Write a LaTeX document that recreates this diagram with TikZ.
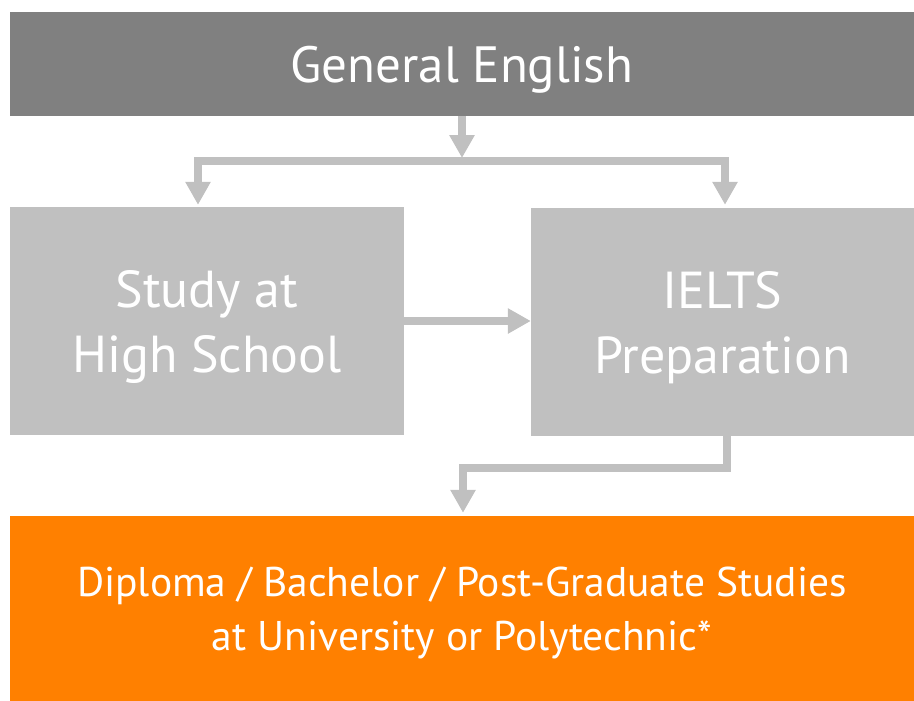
\documentclass[tikz,border=0pt]{standalone}
\usepackage{fontspec}
\setmainfont{PT Sans}
\usetikzlibrary{arrows.meta}

\definecolor{topgray}{HTML}{808080}
\definecolor{boxgray}{HTML}{C0C0C0}
\definecolor{degorange}{HTML}{FF8000}

\tikzset{
  block/.style={fill=#1, text=white, align=center, inner sep=0pt, text depth=0pt},
  bar/.style={draw=boxgray, line width=8pt},
  flow/.style={bar, -{Triangle[width=24pt,length=23pt]}}
}

\begin{document}
\begin{tikzpicture}[x=1pt,y=-1pt]
    \useasboundingbox (0,0) rectangle (914,701);

    \node[block=topgray, minimum width=904pt, minimum height=104pt,
      font=\fontsize{51}{60}\selectfont] (gen) at (462,64) {General English};
    \node[block=boxgray, minimum width=394pt, minimum height=228pt,
      font=\fontsize{52}{65}\selectfont] (school) at (207,321) {Study at\\High School};
    \node[block=boxgray, minimum width=383pt, minimum height=228pt,
      font=\fontsize{52}{65}\selectfont] (ielts) at (722.5,322) {IELTS\\Preparation};
    \node[block=degorange, minimum width=904pt, minimum height=185pt,
      font=\fontsize{41.5}{54}\selectfont] (degree) at (462,608.5)
      {Diploma / Bachelor / Post-Graduate Studies\\at University or Polytechnic*};

    \coordinate (split) at (462,158);
    \coordinate (left) at (198,161);
    \coordinate (right) at (725,161);
    \coordinate (bend1) at (727,468);
    \coordinate (bend2) at (463,468);

    \draw[flow] (gen.south) -- (split);
    \draw[bar, line cap=rect] (left) -- (right);
    \foreach \Side in {left,right}
      \draw[flow, shorten >=2pt] (\Side) -- (school.north -| \Side);
    \draw[flow] (school.east) -- (school.east -| ielts.west);
    \draw[flow, shorten >=3pt] (ielts.south -| bend1) -- (bend1) -- (bend2)
      -- (degree.north -| bend2);
  \end{tikzpicture}
\end{document}
